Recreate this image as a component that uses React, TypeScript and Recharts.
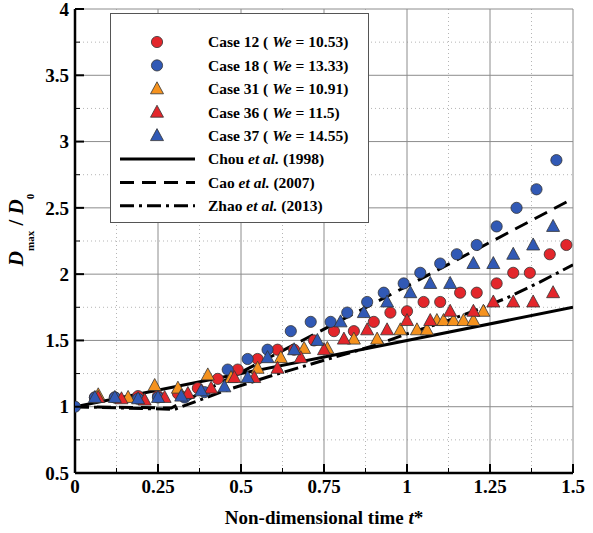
import React from 'react';
import { ComposedChart, Scatter, Line, XAxis, YAxis, CartesianGrid, Legend } from 'recharts';

// axis ticks
const xMajor = [0, 0.25, 0.5, 0.75, 1, 1.25, 1.5];
const xMinor = [0.125, 0.375, 0.625, 0.875, 1.125, 1.375];
const yMajor = [0.5, 1, 1.5, 2, 2.5, 3, 3.5, 4];
const yMinor = [0.75, 1.25, 1.75, 2.25, 2.75, 3.25, 3.75];

// Case 12 (We = 10.53) - red circles
const case12T = [0.06, 0.12, 0.19, 0.25, 0.31, 0.37, 0.43, 0.49, 0.55, 0.61, 0.66, 0.72, 0.78, 0.84, 0.9, 0.95, 1.0, 1.05, 1.1, 1.16, 1.21, 1.27, 1.32, 1.37, 1.43, 1.48];
const case12V = [1.07, 1.07, 1.08, 1.08, 1.1, 1.14, 1.21, 1.28, 1.36, 1.43, 1.43, 1.5, 1.57, 1.57, 1.64, 1.71, 1.72, 1.79, 1.79, 1.86, 1.86, 1.93, 2.01, 2.01, 2.15, 2.22];

// Case 18 (We = 13.33) - blue circles
const case18T = [0, 0.06, 0.12, 0.19, 0.25, 0.33, 0.39, 0.46, 0.52, 0.58, 0.65, 0.71, 0.77, 0.82, 0.88, 0.93, 0.99, 1.04, 1.1, 1.15, 1.21, 1.27, 1.33, 1.39, 1.45];
const case18V = [1.0, 1.07, 1.07, 1.06, 1.07, 1.07, 1.11, 1.28, 1.36, 1.43, 1.57, 1.64, 1.64, 1.71, 1.79, 1.86, 1.93, 2.01, 2.08, 2.15, 2.22, 2.36, 2.5, 2.64, 2.86];

// Case 31 (We = 10.91) - orange triangles
const case31T = [0.07, 0.16, 0.24, 0.31, 0.4, 0.47, 0.55, 0.62, 0.69, 0.76, 0.84, 0.91, 0.98, 1.03, 1.06, 1.09, 1.11, 1.14, 1.17, 1.2, 1.23];
const case31V = [1.09, 1.07, 1.16, 1.14, 1.24, 1.22, 1.29, 1.37, 1.44, 1.44, 1.51, 1.51, 1.58, 1.58, 1.58, 1.65, 1.65, 1.65, 1.65, 1.65, 1.72];

// Case 36 (We = 11.5) - red triangles
const case36T = [0.07, 0.14, 0.21, 0.27, 0.34, 0.41, 0.48, 0.54, 0.61, 0.68, 0.75, 0.81, 0.88, 0.94, 1.0, 1.07, 1.13, 1.2, 1.26, 1.32, 1.38, 1.44];
const case36V = [1.07, 1.06, 1.05, 1.07, 1.1, 1.14, 1.22, 1.22, 1.29, 1.37, 1.43, 1.51, 1.58, 1.58, 1.65, 1.65, 1.72, 1.72, 1.79, 1.79, 1.79, 1.86];

// Case 37 (We = 14.55) - blue triangles
const case37T = [0.06, 0.12, 0.19, 0.25, 0.32, 0.38, 0.45, 0.52, 0.58, 0.66, 0.73, 0.8, 0.87, 0.94, 1.01, 1.07, 1.13, 1.2, 1.26, 1.32, 1.38, 1.44];
const case37V = [1.07, 1.07, 1.06, 1.07, 1.08, 1.12, 1.15, 1.22, 1.37, 1.43, 1.5, 1.64, 1.71, 1.79, 1.86, 1.93, 1.93, 2.08, 2.08, 2.15, 2.22, 2.36];

// model curves
const chouT = [0, 0.5, 1, 1.5];
const chouV = [1.0, 1.25, 1.5, 1.75];
const caoT = [0, 0.29, 0.5, 1, 1.5];
const caoV = [1.0, 0.99, 1.26, 1.91, 2.57];
const zhaoT = [0, 0.3, 0.45, 0.6, 0.75, 0.9, 1.0, 1.1, 1.2, 1.3, 1.4, 1.5];
const zhaoV = [1.0, 0.98, 1.12, 1.24, 1.35, 1.46, 1.55, 1.63, 1.72, 1.82, 1.94, 2.07];

const zip = (t: number[], v: number[]) => t.map((x, i) => ({ t: x, v: v[i] }));

const RED = '#e3262b';
const BLUE = '#3159b5';
const ORANGE = '#f5921e';
const EDGE = '#333';
const FONT = 'Liberation Serif, serif';
const txt = { fontFamily: FONT, fontWeight: 700 } as const;

const cases = [
  { name: 'Case 12', we: '10.53', shape: 'circle', color: RED, data: zip(case12T, case12V) },
  { name: 'Case 18', we: '13.33', shape: 'circle', color: BLUE, data: zip(case18T, case18V) },
  { name: 'Case 31', we: '10.91', shape: 'triangle', color: ORANGE, data: zip(case31T, case31V) },
  { name: 'Case 36', we: '11.5', shape: 'triangle', color: RED, data: zip(case36T, case36V) },
  { name: 'Case 37', we: '14.55', shape: 'triangle', color: BLUE, data: zip(case37T, case37V) },
];

const models = [
  { author: 'Chou', year: '(1998)', dash: undefined, data: zip(chouT, chouV) },
  { author: 'Cao', year: '(2007)', dash: '14 8', data: zip(caoT, caoV) },
  { author: 'Zhao', year: '(2013)', dash: '14 5 3 5', data: zip(zhaoT, zhaoV) },
];

const TICK_SIZE = 0;
const TICK_MARGIN = 0;

const Marker = ({ cx, cy, shape, color }: any) => {
  if (cx == null || cy == null) return null;
  if (shape === 'circle') {
    return <circle cx={cx} cy={cy} r={5.6} fill={color} stroke={EDGE} strokeWidth={0.8} />;
  }
  return (
    <polygon
      points={`${cx},${cy - 7} ${cx - 6.5},${cy + 5} ${cx + 6.5},${cy + 5}`}
      fill={color}
      stroke={EDGE}
      strokeWidth={0.8}
    />
  );
};

const XTick = (props: any) => {
  const { x, y, payload } = props;
  const v = payload.value;
  const major = xMajor.includes(v);
  const axisY = y - TICK_SIZE - TICK_MARGIN;
  return (
    <g>
      <line x1={x} x2={x} y1={axisY} y2={axisY - (major ? 9 : 5)} stroke="#000" strokeWidth={major ? 2 : 1} />
      {major && (
        <text x={x} y={axisY + 20} textAnchor="middle" style={{ ...txt, fontSize: 19 }} fill="#000">
          {String(v)}
        </text>
      )}
    </g>
  );
};

const YTick = (props: any) => {
  const { x, y, payload } = props;
  const v = payload.value;
  const major = yMajor.includes(v);
  const axisX = x + TICK_SIZE + TICK_MARGIN;
  return (
    <g>
      <line x1={axisX} x2={axisX + (major ? 9 : 5)} y1={y} y2={y} stroke="#000" strokeWidth={major ? 2 : 1} />
      {major && (
        <text x={axisX - 6} y={y} dy="0.35em" textAnchor="end" style={{ ...txt, fontSize: 19 }} fill="#000">
          {String(v)}
        </text>
      )}
    </g>
  );
};

const XTitle = ({ viewBox }: any) => (
  <text x={viewBox.x + viewBox.width / 2} y={viewBox.y + 51} textAnchor="middle" style={{ ...txt, fontSize: 19 }} fill="#000">
    Non-dimensional time <tspan fontStyle="italic">t</tspan>*
  </text>
);

const YTitle = ({ viewBox }: any) => {
  const x = viewBox.x + 23;
  const y = viewBox.y + 221;
  return (
    <text transform={`rotate(-90, ${x}, ${y})`} x={x} y={y} textAnchor="middle" style={{ ...txt, fontSize: 21 }} fill="#000">
      <tspan fontStyle="italic">D</tspan>
      <tspan fontSize={11} dy={11}>max</tspan>
      <tspan dy={-11}> / </tspan>
      <tspan fontStyle="italic">D</tspan>
      <tspan fontSize={11} dy={11}>0</tspan>
    </text>
  );
};

const LegendBox = () => {
  const rowY = (i: number) => 29 + i * 23.4;
  return (
    <svg width={260} height={211} style={{ display: 'block' }}>
      <rect x={0.5} y={0.5} width={258} height={209} fill="#fff" stroke="#555" strokeWidth={1} />
      {cases.map((c, i) => (
        <g key={c.name}>
          <Marker cx={47} cy={rowY(i)} shape={c.shape} color={c.color} />
          <text x={98} y={rowY(i)} dy="0.35em" style={{ ...txt, fontSize: 15.5 }} fill="#000">
            {c.name} ( <tspan fontStyle="italic">We</tspan> = {c.we})
          </text>
        </g>
      ))}
      {models.map((m, j) => {
        const yy = rowY(cases.length + j);
        return (
          <g key={m.author}>
            <line x1={10} x2={85} y1={yy} y2={yy} stroke="#000" strokeWidth={3} strokeDasharray={m.dash} />
            <text x={98} y={yy} dy="0.35em" style={{ ...txt, fontSize: 15.5 }} fill="#000">
              {m.author} <tspan fontStyle="italic">et al.</tspan> {m.year}
            </text>
          </g>
        );
      })}
    </svg>
  );
};

export default function App() {
  return (
    <div style={{ position: 'absolute', left: 0, top: 0, background: '#fff' }}>
      <ComposedChart width={593} height={533} margin={{ top: 9, right: 20, left: 0, bottom: 0 }}>
        <CartesianGrid verticalValues={xMinor} horizontalValues={yMinor} stroke="#b5b5b5" strokeDasharray="1 3" />
        <CartesianGrid verticalValues={xMajor} horizontalValues={yMajor} stroke="#8c8c8c" strokeWidth={1} />
        <XAxis
          type="number"
          dataKey="t"
          domain={[0, 1.5]}
          ticks={[...xMajor, ...xMinor].sort((a, b) => a - b)}
          interval={0}
          height={60}
          tickSize={TICK_SIZE}
          tickMargin={TICK_MARGIN}
          tickLine={false}
          tick={<XTick />}
          axisLine={{ stroke: '#000', strokeWidth: 2.5 }}
          allowDataOverflow
          label={<XTitle />}
        />
        <YAxis
          type="number"
          dataKey="v"
          domain={[0.5, 4]}
          ticks={[...yMajor, ...yMinor].sort((a, b) => a - b)}
          interval={0}
          width={75}
          tickSize={TICK_SIZE}
          tickMargin={TICK_MARGIN}
          tickLine={false}
          tick={<YTick />}
          axisLine={{ stroke: '#000', strokeWidth: 2.5 }}
          allowDataOverflow
          label={<YTitle />}
        />
        {cases.map((c) => (
          <Scatter
            key={c.name}
            name={c.name}
            data={c.data}
            dataKey="v"
            isAnimationActive={false}
            shape={(p: any) => <Marker cx={p.cx} cy={p.cy} shape={c.shape} color={c.color} />}
          />
        ))}
        {models.map((m) => (
          <Line
            key={m.author}
            data={m.data}
            dataKey="v"
            type="linear"
            stroke="#000"
            strokeWidth={3}
            strokeDasharray={m.dash}
            dot={false}
            activeDot={false}
            isAnimationActive={false}
          />
        ))}
        <Legend
          layout="vertical"
          align="center"
          verticalAlign="middle"
          content={<LegendBox />}
          wrapperStyle={{ position: 'absolute', left: 110, top: 13, width: 260, height: 211 }}
        />
      </ComposedChart>
    </div>
  );
}
